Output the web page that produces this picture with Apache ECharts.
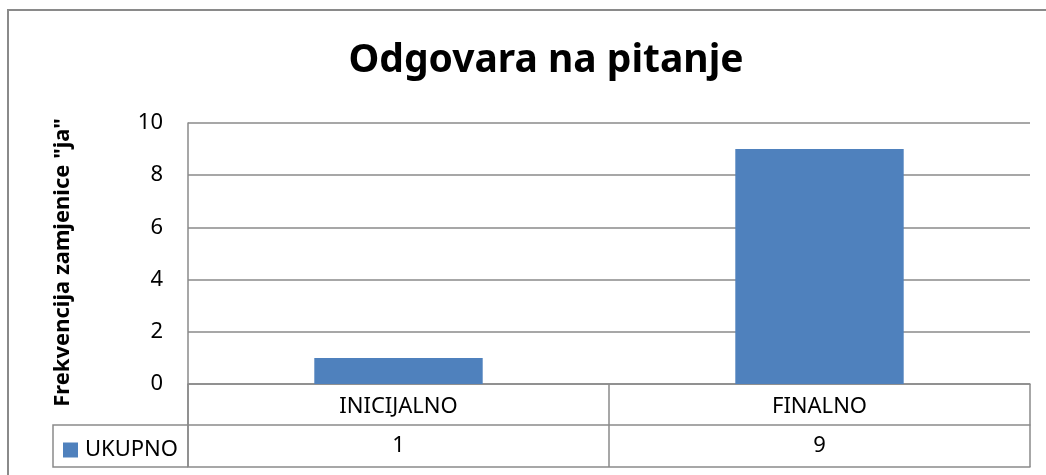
<!DOCTYPE html>
<html>
<head>
<meta charset="utf-8">
<script src="https://cdn.jsdelivr.net/npm/echarts@6/dist/echarts.min.js"></script>
<style>html,body{margin:0;padding:0;background:#fff;}#c{width:1046px;height:475px;}</style>
</head>
<body>
<div id="c"></div>
<script>
const titleText = 'Odgovara na pitanje';
const yAxisName = 'Frekvencija zamjenice "ja"';
const seriesName = 'UKUPNO';
const categories = ['INICIJALNO', 'FINALNO'];
const values = [1, 9];
const yTicks = [0, 2, 4, 6, 8, 10];

const gray = '#8a8a8a';
const font = 'Noto Sans';
const chart = echarts.init(document.getElementById('c'), null, {renderer: 'canvas'});
chart.setOption({
  animation: false,
  backgroundColor: '#fff',
  title: {
    text: titleText, left: 541, top: 36, textAlign: 'center',
    textStyle: {fontFamily: font, fontSize: 39, fontWeight: 'bold', color: '#000'}
  },
  legend: {
    data: [seriesName], left: 58, top: 434, itemWidth: 15, itemHeight: 15, icon: 'rect',
    selectedMode: false, itemGap: 6,
    textStyle: {fontFamily: font, fontSize: 22, color: '#000', padding: [0, 0, 0, 2]}
  },
  grid: {left: 188, top: 123, right: 16, bottom: 91, containLabel: false},
  xAxis: [
    {
      type: 'category', data: categories, position: 'bottom',
      axisLine: {show: true, lineStyle: {color: gray, width: 1.5}},
      axisTick: {show: true, alignWithLabel: false, length: 83, lineStyle: {color: gray, width: 1.5}},
      axisLabel: {margin: 12, fontFamily: font, fontSize: 22, color: '#000'},
      splitLine: {show: false}
    },
    {
      type: 'category', data: values.map(String), position: 'bottom', offset: 41,
      axisLine: {show: true, lineStyle: {color: gray, width: 1.5}},
      axisTick: {show: false},
      axisLabel: {margin: 10, fontFamily: font, fontSize: 22, color: '#000'}
    },
    {
      type: 'category', data: categories, position: 'bottom', offset: 83,
      axisLine: {show: true, lineStyle: {color: gray, width: 1.5}},
      axisTick: {show: false}, axisLabel: {show: false}
    }
  ],
  yAxis: {
    type: 'value', min: yTicks[0], max: yTicks[yTicks.length - 1], interval: 2,
    name: yAxisName, nameLocation: 'middle', nameGap: 114, nameRotate: 90,
    nameTextStyle: {fontFamily: font, fontSize: 22, fontWeight: 'bold', color: '#000', padding: [0, 0, 0, -18]},
    axisLine: {show: true, lineStyle: {color: gray, width: 1.5}},
    axisTick: {show: false},
    axisLabel: {margin: 25, fontFamily: font, fontSize: 22, color: '#000'},
    splitLine: {show: true, lineStyle: {color: gray, width: 1.5}}
  },
  graphic: [
    {type: 'rect', silent: true, shape: {x: 8, y: 10, width: 1100, height: 600},
     style: {fill: 'none', stroke: gray, lineWidth: 2}, z: -1},
    {type: 'line', silent: true, shape: {x1: 188, y1: 384, x2: 188, y2: 467},
     style: {stroke: gray, lineWidth: 1.5}},
    {type: 'polyline', silent: true, shape: {points: [[188, 425], [53, 425], [53, 467], [188, 467]]},
     style: {fill: 'none', stroke: gray, lineWidth: 1.5}}
  ],
  series: [{
    name: seriesName, type: 'bar', xAxisIndex: 0, data: values, barWidth: '40%',
    itemStyle: {color: '#4f81bd'}
  }]
});
</script>
</body>
</html>
